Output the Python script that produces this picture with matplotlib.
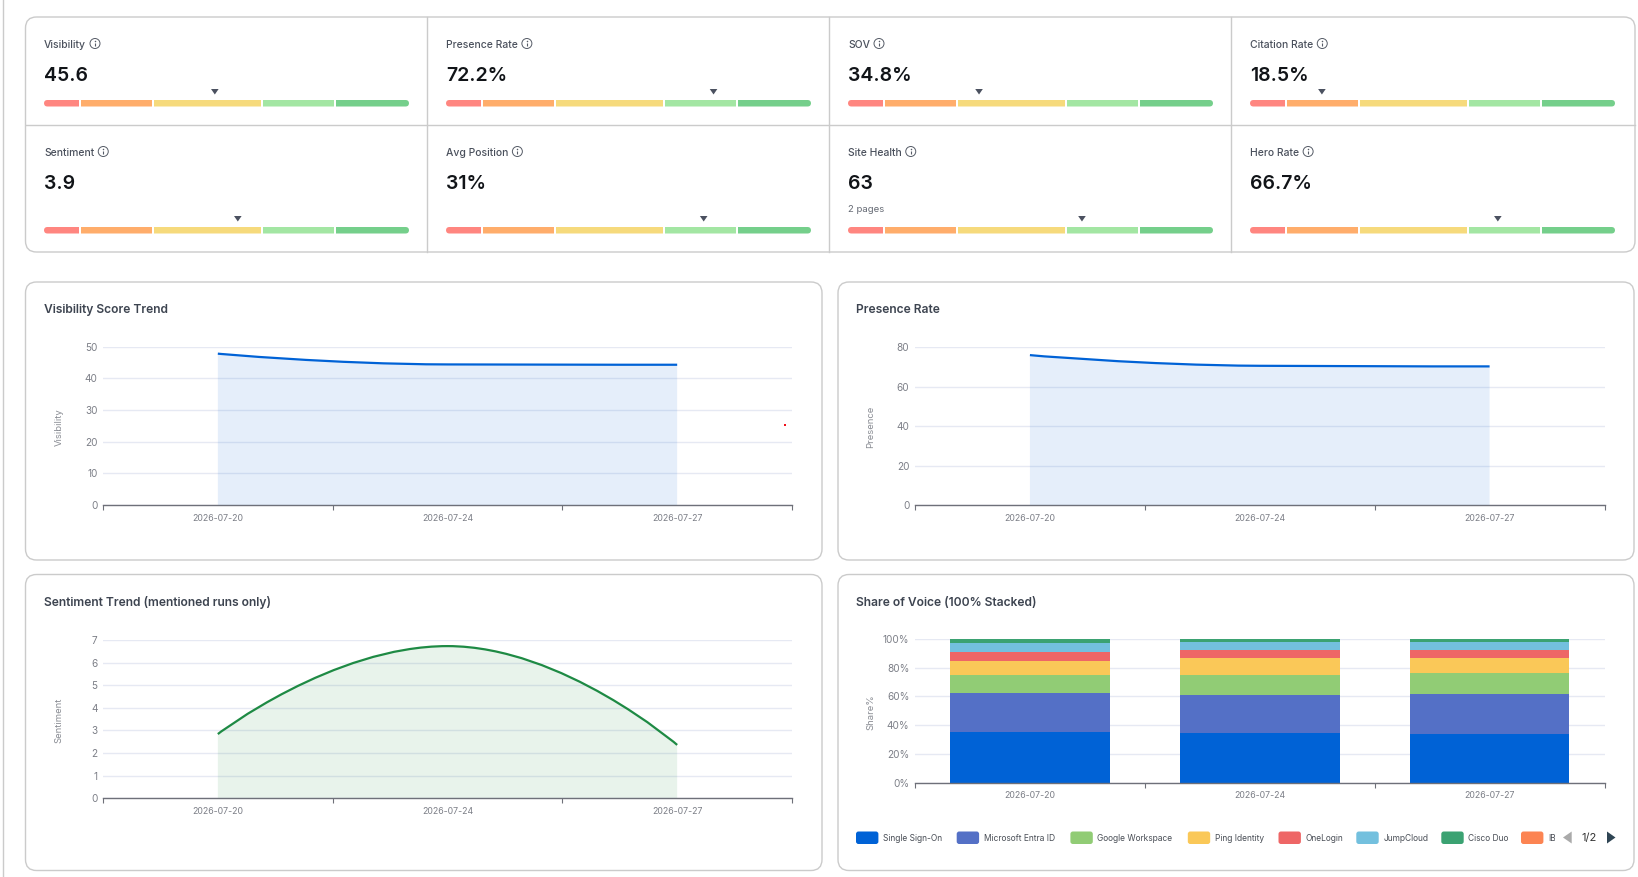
import matplotlib
matplotlib.use("Agg")
import matplotlib.pyplot as plt
from matplotlib.patches import FancyBboxPatch, PathPatch, Rectangle, Circle, Polygon
from matplotlib.path import Path
from matplotlib.transforms import ScaledTranslation

W, H = 1638, 878
plt.rcParams['font.family'] = ['Inter', 'DejaVu Sans']

# KPI cards
kpi_labels = ['Visibility', 'Presence Rate', 'SOV', 'Citation Rate',
              'Sentiment', 'Avg Position', 'Site Health', 'Hero Rate']
kpi_values = ['45.6', '72.2%', '34.8%', '18.5%', '3.9', '31%', '63', '66.7%']
kpi_marker = [46.8, 73.3, 35.9, 19.7, 53.1, 70.6, 64.1, 67.9]
gauge_edges = [0, 10, 30, 60, 80, 100]
gauge_colors = ['#ff8680', '#ffad6b', '#f6da7c', '#a3e6a3', '#75cf8b']

# trend charts
dates = ['2026-07-20', '2026-07-24', '2026-07-27']
visibility = [47.8, 44.4, 44.3]
presence = [75.9, 70.5, 70.2]
sentiment = [2.84, 6.73, 2.36]
stray_x = [2.47]
stray_y = [25.3]

# share of voice
sov_names = ['Single Sign-On', 'Microsoft Entra ID', 'Google Workspace', 'Ping Identity',
             'OneLogin', 'JumpCloud', 'Cisco Duo', 'IBM']
sov_colors = ['#0062d6', '#5470c6', '#91cc75', '#fac858', '#ee6666', '#73c0de', '#3ba272', '#fc8452']
single_sign_on = [35.5, 34.8, 34.1]
entra_id = [26.7, 26.5, 27.9]
google_workspace = [12.5, 13.9, 14.6]
ping_identity = [10.2, 11.6, 10.4]
one_login = [6.3, 5.8, 5.3]
jump_cloud = [6.2, 5.3, 5.6]
cisco_duo = [2.4, 1.9, 2.1]
ibm = [0.2, 0.2, 0.0]
sov_series = [single_sign_on, entra_id, google_workspace, ping_identity,
              one_login, jump_cloud, cisco_duo, ibm]

BORDER = '#cbcbcb'
AXIS = '#6e7079'
GRID = '#e6e9f3'
TITLE = '#3d4450'


def px(size):
    # css pixels to points at dpi 100
    return size * 0.72


def make_plot_axes(fig, left, right, top, bottom):
    ax = fig.add_axes([left / W, 1 - bottom / H, (right - left) / W, (bottom - top) / H])
    ax.patch.set_alpha(0)
    for side in ['left', 'top', 'right']:
        ax.spines[side].set_visible(False)
    ax.spines['bottom'].set_color(AXIS)
    ax.spines['bottom'].set_linewidth(1)
    ax.set_xlim(-0.5, 2.5)
    ax.set_xticks([-0.5, 0.5, 1.5, 2.5])
    ax.set_xticklabels([])
    ax.set_xticks([0, 1, 2], minor=True)
    ax.set_xticklabels(dates, minor=True, fontsize=px(8.8), color='#7c7f87')
    ax.tick_params(axis='x', which='major', length=3.5, width=0.8, color=AXIS)
    ax.tick_params(axis='x', which='minor', length=0, pad=5.5)
    ax.tick_params(axis='y', length=0, pad=4, labelsize=px(10), labelcolor='#7c7f87')
    ax.grid(axis='y', color=GRID, linewidth=1)
    ax.set_axisbelow(True)
    return ax


def nudge_ytick_labels(ax):
    # the labels sit a pixel above their gridlines
    for label in ax.get_yticklabels():
        label.set_transform(label.get_transform() + ScaledTranslation(0, 1 / 100, ax.figure.dpi_scale_trans))


def smooth_curve(xs, ys, smooth=0.5):
    # bezier through the points, tangents clamped so the curve never overshoots a segment (as echarts does)
    slopes = [0.0] * len(ys)
    for i in range(1, len(ys) - 1):
        vy = smooth * 0.5 * (ys[i + 1] - ys[i - 1])
        nxt = min(max(ys[i] + vy, min(ys[i], ys[i + 1])), max(ys[i], ys[i + 1]))
        vy = nxt - ys[i]
        prv = min(max(ys[i] - vy, min(ys[i], ys[i - 1])), max(ys[i], ys[i - 1]))
        slopes[i] = ys[i] - prv
    verts = [(xs[0], ys[0])]
    codes = [Path.MOVETO]
    for i in range(len(xs) - 1):
        step = xs[i + 1] - xs[i]
        c1 = (xs[i] + (smooth * step if i > 0 else 0), ys[i] + slopes[i])
        c2 = (xs[i + 1] - (smooth * step if i + 2 < len(xs) else 0), ys[i + 1] - slopes[i + 1])
        verts += [c1, c2, (xs[i + 1], ys[i + 1])]
        codes += [Path.CURVE4] * 3
    return verts, codes


def draw_trend(ax, values, ymax, step, color, ylabel):
    xs = list(range(len(values)))
    verts, codes = smooth_curve(xs, values)
    area = Path(verts + [(xs[-1], 0), (xs[0], 0), (xs[0], 0)],
                codes + [Path.LINETO, Path.LINETO, Path.CLOSEPOLY])
    ax.add_patch(PathPatch(area, facecolor=color, alpha=0.1, edgecolor='none', zorder=2))
    ax.add_patch(PathPatch(Path(verts, codes), facecolor='none', edgecolor=color, linewidth=1.6,
                           capstyle='butt', zorder=3))
    ax.set_ylim(0, ymax)
    ax.set_yticks(range(0, ymax + 1, step))
    nudge_ytick_labels(ax)
    ax.text(-44 / 689, 0.5, ylabel, transform=ax.transAxes, rotation=90, ha='center', va='center',
            fontsize=px(9.5), color='#8a8d94')


def draw_card(ax, x0, y0, x1, y1, title=None):
    ax.add_patch(FancyBboxPatch((x0, y0), x1 - x0, y1 - y0, boxstyle='round,pad=0,rounding_size=11',
                                facecolor='white', edgecolor=BORDER, linewidth=1))
    if title:
        ax.text(x0 + 18.5, y0 + 27.5, title, fontsize=px(12.05), color=TITLE, va='center', weight='semibold')


def draw_info_icon(ax, x, y):
    ax.add_patch(Circle((x, y), 5, facecolor='white', edgecolor='#555b66', linewidth=0.7))
    ax.plot([x, x], [y - 0.6, y + 2.8], color='#555b66', linewidth=0.8, solid_capstyle='butt')
    ax.plot([x], [y - 2.4], marker='o', markersize=1.1, color='#555b66', markeredgewidth=0)


def draw_gauge(ax, x0, x1, y0, y1, marker):
    span = x1 - x0
    clip = FancyBboxPatch((x0, y0), span, y1 - y0, boxstyle='round,pad=0,rounding_size=3.5',
                          facecolor='none', edgecolor='none')
    ax.add_patch(clip)
    for i, color in enumerate(gauge_colors):
        a = x0 + span * gauge_edges[i] / 100
        b = x0 + span * gauge_edges[i + 1] / 100
        r = Rectangle((a, y0), b - a - (2 if i < 4 else 0), y1 - y0, facecolor=color, edgecolor='none')
        ax.add_patch(r)
        r.set_clip_path(clip)
    mx = x0 + span * marker / 100
    ax.add_patch(Polygon([(mx - 3.8, y0 - 11), (mx + 3.8, y0 - 11), (mx, y0 - 5.5)],
                         facecolor='#4b5160', edgecolor='none'))


fig = plt.figure(figsize=(W / 100, H / 100), dpi=100, facecolor='white')
bg = fig.add_axes([0, 0, 1, 1])
bg.set_xlim(0, W)
bg.set_ylim(H, 0)
bg.axis('off')

# thin line down the left edge of the page
bg.plot([2.5, 2.5], [0, H], color=BORDER, linewidth=1)

# KPI block
draw_card(bg, 25.5, 18, 1635, 253)
bg.plot([25.5, 1635], [126, 126], color=BORDER, linewidth=1)
for x in [427, 829, 1231]:
    bg.plot([x, x], [18, 253], color=BORDER, linewidth=1)

cell_left = [44, 446, 848, 1250]
fig.canvas.draw()
renderer = fig.canvas.get_renderer()
for i, label in enumerate(kpi_labels):
    col = i % 4
    row = i // 4
    x = cell_left[col]
    top = 0 if row == 0 else 108
    t = bg.text(x, 44.5 + top, label, fontsize=px(10.4), color='#4a505c', va='center', weight='medium')
    box = t.get_window_extent(renderer)
    draw_info_icon(bg, box.x1 + 9, 44.5 + top)
    bg.text(x, 76.2 + top, kpi_values[i], fontsize=px(19.5), color='#111418', va='center', weight='semibold')
    if row == 0:
        draw_gauge(bg, x, x + 365, 101, 107.5, kpi_marker[i])
    else:
        draw_gauge(bg, x, x + 365, 228, 234.5, kpi_marker[i])
bg.text(848, 209.5, '2 pages', fontsize=px(9.6), color='#666b75', va='center')

# chart cards
draw_card(bg, 25.5, 283, 822, 561, 'Visibility Score Trend')
draw_card(bg, 838, 283, 1634, 561, 'Presence Rate')
draw_card(bg, 25.5, 575.5, 822, 871.5, 'Sentiment Trend (mentioned runs only)')
draw_card(bg, 838, 575.5, 1634, 871.5, 'Share of Voice (100% Stacked)')

ax1 = make_plot_axes(fig, 103, 792, 347.7, 506)
draw_trend(ax1, visibility, 50, 10, '#0062d6', 'Visibility')
ax1.plot(stray_x, stray_y, linestyle='none', marker='s', markersize=1.7, color='#f0101a', markeredgewidth=0)

ax2 = make_plot_axes(fig, 915, 1604.5, 348, 506.3)
draw_trend(ax2, presence, 80, 20, '#0062d6', 'Presence')

ax3 = make_plot_axes(fig, 103, 792, 641, 799.3)
draw_trend(ax3, sentiment, 7, 1, '#1e8a44', 'Sentiment')

ax4 = make_plot_axes(fig, 915, 1604.5, 640, 783.7)
bottom = [0, 0, 0]
for values, color in zip(sov_series, sov_colors):
    ax4.bar(range(3), values, width=0.695, bottom=bottom, color=color, edgecolor='none', zorder=2)
    bottom = [a + b for a, b in zip(bottom, values)]
ax4.set_ylim(0, 100)
ax4.set_yticks(range(0, 101, 20))
ax4.set_yticklabels([f'{v}%' for v in range(0, 101, 20)])
nudge_ytick_labels(ax4)
ax4.text(-44 / 689, 0.5, 'Share%', transform=ax4.transAxes, rotation=90, ha='center', va='center',
         fontsize=px(9.5), color='#8a8d94')

# legend, first page of it
swatch_x = [856, 956.7, 1070.4, 1187.8, 1278.5, 1356.3, 1441.3, 1521]
for name, color, x in zip(sov_names, sov_colors, swatch_x):
    bg.add_patch(FancyBboxPatch((x, 832.5), 22.4, 12.5, boxstyle='round,pad=0,rounding_size=2.5',
                                facecolor=color, edgecolor='none'))
    t = bg.text(x + 27, 838.5, name, fontsize=px(8.4), color='#4a4f57', va='center')
    t.set_clip_path(Rectangle((0, 0), 1554.5, H, transform=bg.transData))
    t.set_clip_on(True)
bg.add_patch(Polygon([(1571.7, 832.5), (1571.7, 844.5), (1563, 838.5)], facecolor='#aaaaaa', edgecolor='none'))
bg.text(1589, 838.5, '1/2', fontsize=px(11), color='#333333', va='center', ha='center')
bg.add_patch(Polygon([(1607, 832.5), (1607, 844.5), (1615.5, 838.5)], facecolor='#2f4554', edgecolor='none'))

fig.savefig('out.png', dpi=100, facecolor='white')
